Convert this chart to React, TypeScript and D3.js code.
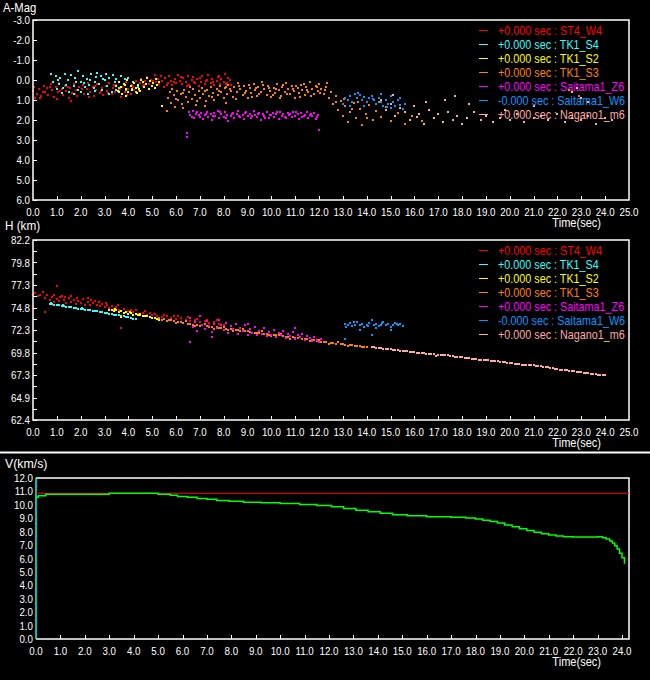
import React, { useEffect } from "react";
import * as d3 from "d3";

type P = [number, number];

// ---------- legend / series ----------
const seriesNames = ["ST4_W4", "TK1_S4", "TK1_S2", "TK1_S3", "Saitama1_Z6", "Saitama1_W6", "Nagano1_m6"];
const seriesOffsets = ["+0.000", "+0.000", "+0.000", "+0.000", "+0.000", "-0.000", "+0.000"];
const seriesColors = ["#ff0000", "#33ffff", "#ffff00", "#ff8000", "#ff00ff", "#0099ff", "#ffa8a8"];

// ---------- tick labels ----------
const timeTicksTop = [0, 1, 2, 3, 4, 5, 6, 7, 8, 9, 10, 11, 12, 13, 14, 15, 16, 17, 18, 19, 20, 21, 22, 23, 24, 25];
const timeTicksBottom = [0, 1, 2, 3, 4, 5, 6, 7, 8, 9, 10, 11, 12, 13, 14, 15, 16, 17, 18, 19, 20, 21, 22, 23, 24];
const magTicks = [-3, -2, -1, 0, 1, 2, 3, 4, 5, 6];
const hTickLabels = ["82.2", "79.8", "77.3", "74.8", "72.3", "69.8", "67.3", "64.9", "62.4"];
const vTicks = [0, 1, 2, 3, 4, 5, 6, 7, 8, 9, 10, 11, 12];

// ---------- A-Mag vs time ----------
const magST4: P[] = [
  [0.0, 0.55], [0.05, 0.35], [0.15, 0.7], [0.25, 0.45], [0.35, 0.8], [0.45, 0.3], [0.5, 0.6], [0.6, 0.4], [0.65, 0.75], [0.75, 0.2],
  [0.8, 0.5], [0.9, 0.85], [0.95, 0.35], [1.05, 0.6], [1.1, 0.15], [1.2, 0.45], [1.25, 0.75], [1.35, 0.3], [1.4, 0.55], [1.5, 0.9],
  [1.55, 0.4], [1.65, 0.65], [1.7, 0.2], [1.8, 0.5], [1.85, 0.8], [1.95, 0.35], [2.0, 0.6], [2.1, 0.25], [2.15, 0.7], [2.25, 0.45],
  [2.3, 0.15], [2.4, 0.6], [2.5, 0.35], [2.55, 0.8], [2.65, 0.5], [2.7, 0.2], [2.8, 0.65], [2.9, 0.4], [2.95, 0.75], [3.05, 0.3],
  [3.1, 0.55], [3.2, 0.15], [3.3, 0.7], [3.35, 0.4], [3.45, 0.6], [3.5, 0.25], [3.6, 0.5], [3.7, 0.85], [3.75, 0.35], [3.85, 0.6],
  [3.9, 0.1], [4.0, 0.45], [4.1, 0.7], [4.15, 0.25], [4.25, 0.5], [4.3, 0.05], [4.4, 0.35], [4.5, 0.15], [4.55, -0.05], [4.65, 0.25],
  [4.7, 0.05], [4.8, -0.15], [4.85, 0.2], [4.95, 0.0], [5.0, 0.3], [5.1, -0.25], [5.15, 0.1], [5.25, -0.05], [5.3, 0.2], [5.4, 0.05],
  [5.5, 0.35], [5.55, -0.1], [5.65, 0.15], [5.7, -0.2], [5.8, 0.05], [5.85, 0.25], [5.95, -0.05], [6.0, 0.15], [6.1, -0.25], [6.15, 0.05],
  [6.25, 0.2], [6.3, -0.1], [6.4, 0.1], [6.5, -0.2], [6.55, 0.25], [6.65, 0.0], [6.7, -0.15], [6.8, 0.15], [6.9, -0.05], [6.95, 0.3],
  [7.05, 0.1], [7.1, -0.2], [7.2, 0.2], [7.3, 0.0], [7.35, -0.25], [7.45, 0.15], [7.5, -0.05], [7.6, 0.25], [7.7, 0.05], [7.75, -0.15],
  [7.85, 0.2], [7.9, -0.05], [8.0, 0.1], [8.05, -0.3], [8.15, 0.15], [8.2, -0.1], [8.3, 0.25], [1.6, 1.05], [1.0, 0.95], [0.3, 0.9],
  [0.1, 0.9], [0.4, 0.6], [0.7, 0.35], [1.15, 0.55], [1.45, 0.35], [1.75, 0.7], [2.05, 0.45], [2.35, 0.85], [2.6, 0.3], [2.85, 0.55],
  [3.15, 0.65], [3.4, 0.25], [3.65, 0.45], [3.95, 0.75], [4.2, 0.35], [4.45, 0.55], [4.6, 0.3], [5.05, 0.05], [5.35, -0.2], [5.6, 0.25],
  [5.9, 0.1], [6.2, -0.15], [6.45, 0.3], [6.75, 0.1], [7.0, -0.1], [7.25, 0.05], [7.55, 0.1], [7.8, -0.2], [8.1, 0.2], [8.25, 0.0],
];
const magTK1S4: P[] = [
  [0.75, -0.3], [0.85, 0.1], [0.95, -0.2], [1.0, 0.45], [1.1, 0.2], [1.15, -0.1], [1.25, 0.4], [1.35, -0.3], [1.45, 0.0], [1.5, 0.6],
  [1.6, -0.25], [1.7, 0.3], [1.75, -0.1], [1.9, -0.45], [1.9, 0.5], [2.0, 0.1], [2.1, -0.2], [2.2, 0.35], [2.25, -0.05], [2.3, 0.7],
  [2.4, 0.0], [2.45, -0.3], [2.55, 0.4], [2.6, 0.1], [2.7, -0.35], [2.75, 0.2], [2.85, -0.2], [2.9, 0.5], [3.0, 0.0], [3.05, -0.3],
  [3.1, 0.3], [3.2, -0.1], [3.3, 0.6], [3.35, -0.25], [3.45, 0.1], [3.5, -0.05], [3.6, 0.4], [3.7, -0.2], [3.8, 0.2], [3.9, 0.5],
  [4.0, -0.1], [4.1, 0.3], [4.2, 0.1], [4.3, 0.6], [1.2, 0.65], [1.7, 0.7], [2.0, 0.6], [2.6, 0.55], [3.2, 0.7], [3.5, 0.5],
  [4.4, 0.35], [2.15, 0.15], [1.4, 0.25], [2.95, -0.05], [1.05, 0.0], [1.8, 0.1], [2.35, 0.25], [3.85, -0.05], [2.65, -0.15], [4.15, 0.45],
];
const magTK1S2: P[] = [
  [3.5, 0.3], [3.55, 0.55], [3.6, 0.1], [3.7, 0.35], [3.75, 0.7], [3.8, 0.2], [3.9, 0.45], [3.95, 0.0], [4.0, 0.6], [4.1, 0.3],
  [4.15, 0.5], [4.25, 0.15], [4.3, 0.4], [4.4, 0.25], [4.5, 0.55], [4.6, 0.1], [4.65, 0.35], [4.75, 0.2], [4.85, 0.45], [4.9, 0.05],
  [5.0, 0.3], [5.05, 0.15], [5.15, -0.05], [5.2, 0.25], [5.3, 0.1], [3.9, 0.8], [4.35, 0.65], [5.4, 1.3], [4.55, 0.0], [3.6, 0.6],
  [4.8, -0.1], [5.1, 0.4], [3.85, 0.25], [4.45, 0.45],
];
const magTK1S3: P[] = [
  [5.6, 1.55], [5.65, 0.9], [5.75, 0.6], [5.8, 1.15], [5.9, 0.75], [5.95, 1.35], [6.05, 0.55], [6.1, 1.0], [6.2, 0.7], [6.25, 1.2],
  [6.35, 0.5], [6.4, 0.85], [6.5, 1.1], [6.55, 0.6], [6.65, 0.95], [6.7, 0.45], [6.8, 0.75], [6.85, 1.25], [6.95, 0.55], [7.0, 0.9],
  [7.1, 0.4], [7.15, 0.7], [7.25, 1.05], [7.3, 0.5], [7.4, 0.8], [7.45, 0.35], [7.55, 0.65], [7.6, 1.0], [7.7, 0.45], [7.75, 0.75],
  [7.85, 0.3], [7.9, 0.6], [8.0, 0.9], [8.05, 0.4], [8.15, 0.7], [8.2, 0.25], [8.3, 0.55], [8.4, 0.85], [8.45, 0.35], [8.55, 0.6],
  [8.6, 0.15], [8.7, 0.45], [8.8, 0.75], [8.85, 0.3], [8.95, 0.55], [9.0, 0.9], [9.1, 0.4], [9.15, 0.65], [9.25, 0.2], [9.3, 0.5],
  [9.4, 0.8], [9.45, 0.35], [9.55, 0.6], [9.6, 0.1], [9.7, 0.45], [9.8, 0.75], [9.85, 0.3], [9.95, 0.55], [10.0, 0.85], [10.1, 0.4],
  [10.15, 0.65], [10.25, 0.2], [10.3, 0.5], [10.4, 0.8], [10.45, 0.35], [10.55, 0.6], [10.6, 0.15], [10.7, 0.45], [10.8, 0.7], [10.85, 0.3],
  [10.95, 0.55], [11.0, 0.9], [11.1, 0.4], [11.15, 0.65], [11.25, 0.25], [11.3, 0.5], [11.4, 0.75], [11.45, 0.35], [11.55, 0.6], [11.6, 0.1],
  [11.7, 0.45], [11.8, 0.7], [11.85, 0.3], [11.95, 0.55], [12.0, 0.2], [12.1, 0.45], [12.2, 0.7], [12.3, 0.35], [12.4, 0.9], [12.5, 0.6],
  [12.6, 1.2], [12.7, 0.8], [12.8, 1.5], [12.9, 1.05], [13.0, 1.8], [13.1, 1.3], [13.2, 2.1], [13.3, 1.6], [13.45, 1.15], [13.55, 1.9],
  [13.7, 1.45], [13.8, 2.25], [13.95, 1.7], [14.1, 1.25], [14.25, 2.0], [14.4, 1.55], [14.6, 1.85], [14.8, 1.35], [15.0, 2.05], [15.3, 1.65],
  [15.6, 2.2], [15.9, 1.8], [16.3, 2.05], [22.5, 0.5], [22.9, 0.8], [6.3, 1.4], [7.2, 1.3], [8.1, 1.15],
  [8.25, 0.45], [8.5, 0.95], [8.65, 0.3], [8.9, 0.65], [9.05, 0.25], [9.2, 0.85], [9.35, 0.4], [9.5, 0.7], [9.65, 0.25], [9.9, 0.4],
  [10.05, 0.75], [10.2, 0.45], [10.35, 0.9], [10.5, 0.25], [10.65, 0.7], [10.9, 0.45], [11.05, 0.3], [11.2, 0.85], [11.35, 0.2], [11.5, 0.5],
  [11.65, 0.8], [11.9, 0.35], [12.05, 0.65], [12.25, 0.5], [12.35, 0.15], [5.85, 0.45], [6.0, 0.95], [6.3, 0.65], [6.6, 0.35], [6.9, 1.05],
  [7.2, 0.55], [7.5, 0.85], [7.8, 0.55], [8.1, 0.35], [12.7, 1.1], [13.05, 0.95], [13.4, 1.45], [13.65, 1.1], [14.0, 1.9], [14.5, 1.1],
];
const magZ6: P[] = [
  [6.55, 1.6], [6.6, 1.75], [6.7, 1.55], [6.75, 1.9], [6.85, 1.7], [6.9, 1.6], [7.0, 1.85], [7.05, 1.65], [7.15, 1.95], [7.2, 1.75],
  [7.3, 1.6], [7.35, 1.85], [7.45, 1.7], [7.5, 2.0], [7.6, 1.65], [7.65, 1.8], [7.75, 1.55], [7.8, 1.9], [7.9, 1.7], [8.0, 1.85],
  [8.05, 1.6], [8.15, 1.75], [8.2, 2.05], [8.3, 1.8], [8.4, 1.65], [8.45, 1.9], [8.55, 1.7], [8.6, 1.55], [8.7, 1.85], [8.8, 1.75],
  [8.85, 1.95], [8.95, 1.6], [9.0, 1.8], [9.1, 1.7], [9.15, 1.9], [9.25, 1.55], [9.3, 1.75], [9.4, 1.85], [9.5, 1.65], [9.55, 2.0],
  [9.65, 1.7], [9.7, 1.8], [9.8, 1.6], [9.9, 1.9], [9.95, 1.75], [10.05, 1.65], [10.1, 1.85], [10.2, 1.7], [10.3, 1.95], [10.35, 1.6],
  [10.45, 1.8], [10.5, 1.7], [10.6, 1.9], [10.7, 1.65], [10.75, 1.75], [10.85, 1.85], [10.9, 1.6], [11.0, 1.8], [11.1, 1.7], [11.15, 1.95],
  [11.25, 1.65], [11.3, 1.85], [11.4, 1.75], [11.5, 1.6], [11.55, 1.9], [11.65, 1.7], [11.7, 1.8], [11.8, 1.65], [11.9, 1.85], [11.95, 1.75],
  [6.45, 2.65], [6.45, 2.85], [12.0, 2.5],
  [6.65, 1.85], [6.95, 1.75], [7.25, 1.7], [7.55, 1.8], [7.85, 1.6], [8.1, 1.9], [8.35, 1.7], [8.65, 1.8], [8.9, 1.65], [9.2, 1.8],
  [9.45, 1.7], [9.75, 1.9], [10.0, 1.75], [10.25, 1.6], [10.55, 1.85], [10.8, 1.7], [11.05, 1.6], [11.35, 1.8], [11.6, 1.75], [11.85, 1.95],
];
const magW6: P[] = [
  [13.0, 1.2], [13.1, 0.9], [13.2, 1.0], [13.3, 0.8], [13.4, 1.1], [13.5, 0.7], [13.6, 0.9], [13.7, 0.75], [13.8, 1.0], [13.9, 0.85],
  [14.0, 1.1], [14.1, 0.9], [14.2, 0.8], [14.3, 1.0], [14.4, 1.2], [14.5, 0.9], [14.6, 1.1], [14.7, 1.3], [14.8, 1.0], [14.9, 1.2],
  [15.0, 1.4], [15.1, 1.1], [15.2, 1.3], [15.3, 1.0], [15.4, 1.25], [15.5, 1.45], [15.6, 1.2], [13.3, 1.3], [13.9, 1.3], [14.6, 0.7],
  [15.0, 0.8], [15.4, 0.9], [13.65, 0.65], [14.25, 0.95], [14.85, 1.35],
];
const magM6: P[] = [
  [14.6, 1.0], [14.8, 1.5], [15.0, 1.2], [15.2, 1.8], [15.4, 1.4], [15.6, 1.6], [15.8, 2.0], [16.0, 1.3], [16.2, 1.7], [16.4, 2.2],
  [16.6, 1.5], [16.8, 1.9], [17.0, 1.7], [17.2, 2.1], [17.4, 1.6], [17.6, 2.0], [17.8, 1.8], [18.0, 2.2], [18.2, 1.9], [18.5, 1.6],
  [18.8, 2.0], [19.0, 1.8], [19.3, 2.1], [19.6, 1.9], [20.0, 2.0], [20.3, 1.7], [20.6, 2.1], [21.0, 1.9], [21.3, 1.8], [21.6, 2.0],
  [22.0, 1.7], [22.3, 2.1], [22.6, 1.9], [23.0, 2.0], [23.3, 1.8], [23.6, 2.2], [24.0, 1.9], [24.3, 2.0], [17.3, 1.0], [17.7, 0.8],
  [18.3, 1.2], [22.6, 0.6], [23.0, 0.9], [23.3, 1.1], [22.8, 0.4], [16.5, 1.1], [19.8, 1.5], [21.0, 1.3], [15.1, 0.75], [16.1, 1.85],
];

// ---------- H vs time ----------
const hST4: P[] = [
  [0.0, 76.2], [0.1, 76.4], [0.2, 76.0], [0.3, 76.1], [0.5, 75.8], [0.6, 76.2], [0.7, 75.6], [0.8, 75.9], [0.9, 76.1], [1.0, 75.7],
  [1.1, 75.5], [1.2, 76.0], [1.3, 75.6], [1.4, 75.3], [1.5, 75.8], [1.6, 75.4], [1.7, 75.6], [1.8, 75.2], [1.9, 75.5], [2.0, 75.3],
  [2.1, 75.7], [2.2, 75.1], [2.3, 75.4], [2.4, 75.0], [2.5, 75.3], [2.6, 75.5], [2.7, 75.0], [2.8, 74.9], [2.9, 75.2], [3.0, 74.8],
  [3.1, 75.0], [3.2, 74.7], [3.3, 74.9], [3.4, 74.6], [3.5, 74.8], [3.6, 74.5], [3.8, 74.6], [4.0, 74.4], [4.2, 74.3], [4.4, 74.1],
  [4.6, 74.2], [4.8, 73.9], [5.0, 74.0], [5.2, 73.8], [5.4, 73.7], [5.6, 73.8], [5.8, 73.6], [6.0, 73.5], [6.2, 73.6], [6.4, 73.4],
  [6.6, 73.3], [6.8, 73.4], [7.0, 73.2], [7.2, 73.3], [7.4, 73.1], [7.6, 73.2], [7.8, 73.0], [8.0, 72.9], [1.0, 77.1], [0.5, 74.3],
  [3.7, 72.5], [0.9, 75.4], [1.6, 76.0], [2.3, 75.8], [1.35, 75.9], [2.75, 75.35], [4.1, 74.55], [4.9, 74.2], [5.9, 73.85],
  [0.4, 76.5], [1.15, 75.9], [1.85, 75.85], [2.45, 75.6], [3.05, 75.25], [3.55, 75.1], [4.3, 74.5], [4.7, 74.4], [5.1, 74.1], [5.5, 73.95],
  [6.1, 73.8], [6.5, 73.7], [6.9, 73.55], [7.3, 73.45], [7.7, 73.35], [8.1, 73.1],
];
const hTK1S4: P[] = [
  [0.7, 75.2], [0.8, 75.15], [0.9, 75.1], [1.0, 75.05], [1.1, 75.0], [1.2, 74.95], [1.3, 74.9], [1.4, 74.85], [1.5, 74.85], [1.6, 74.8],
  [1.7, 74.7], [1.8, 74.7], [1.9, 74.65], [2.0, 74.6], [2.1, 74.6], [2.2, 74.55], [2.3, 74.5], [2.4, 74.45], [2.5, 74.4], [2.6, 74.4],
  [2.7, 74.35], [2.8, 74.3], [2.9, 74.25], [3.0, 74.2], [3.1, 74.15], [3.2, 74.1], [3.3, 74.05], [3.4, 74.0], [3.5, 73.95], [3.6, 73.9],
  [3.7, 73.85], [3.8, 73.8], [3.9, 73.7], [4.0, 73.7], [4.1, 73.6], [4.2, 73.55], [4.3, 73.5], [0.75, 75.3], [1.25, 75.05], [2.05, 74.75],
];
const hTK1S2: P[] = [
  [3.2, 74.5], [3.3, 74.55], [3.4, 74.4], [3.5, 74.45], [3.6, 74.3], [3.7, 74.35], [3.8, 74.2], [3.9, 74.25], [4.0, 74.1], [4.1, 74.15],
  [4.2, 74.0], [4.3, 74.05], [4.4, 73.9], [4.5, 73.95], [4.6, 73.85], [4.7, 73.8], [4.8, 73.8], [4.9, 73.7], [5.0, 73.65], [5.1, 73.6],
  [5.2, 73.5], [5.3, 73.4], [3.7, 73.7], [4.5, 74.1], [3.45, 74.6], [4.05, 74.3],
];
const hTK1S3: P[] = [
  [5.3, 73.6], [5.5, 73.5], [5.7, 73.4], [5.9, 73.3], [6.1, 73.2], [6.3, 73.1], [6.5, 73.0], [6.7, 72.9], [6.9, 72.8], [7.1, 72.8],
  [7.3, 72.7], [7.5, 72.6], [7.7, 72.6], [7.9, 72.5], [8.1, 72.4], [8.3, 72.4], [8.5, 72.3], [8.7, 72.2], [8.9, 72.2], [9.1, 72.1],
  [9.3, 72.0], [9.5, 72.0], [9.7, 71.9], [9.9, 71.8], [10.1, 71.8], [10.3, 71.7], [10.5, 71.6], [10.7, 71.5], [10.9, 71.5], [11.1, 71.4],
  [11.3, 71.3], [11.5, 71.3], [11.7, 71.2], [11.9, 71.1], [12.1, 71.0], [12.3, 71.0], [12.5, 70.9], [12.7, 70.8], [12.9, 70.8], [13.1, 70.7],
  [13.3, 70.6], [13.5, 70.5], [13.7, 70.5], [13.9, 70.4], [5.6, 73.3], [6.0, 73.05], [6.4, 73.25], [6.8, 72.7], [7.2, 72.95], [7.6, 72.45],
  [8.0, 72.65], [8.4, 72.15], [8.8, 72.4], [9.2, 71.95], [9.6, 72.15], [10.0, 71.65], [10.4, 71.9], [10.8, 71.35], [11.2, 71.55], [11.6, 71.05],
  [12.0, 71.25], [12.4, 70.8], [12.8, 70.95], [13.2, 70.55],
  [5.4, 73.45], [5.8, 73.35], [6.2, 73.15], [6.6, 72.95], [7.0, 72.75], [7.4, 72.65], [7.8, 72.55], [8.2, 72.35], [8.6, 72.25], [9.0, 72.15],
  [9.4, 72.0], [9.8, 71.85], [10.2, 71.75], [10.6, 71.55], [11.0, 71.45], [11.4, 71.3], [11.8, 71.15], [12.2, 71.0], [12.6, 70.85], [13.0, 70.75],
  [13.4, 70.6], [13.6, 70.5], [13.8, 70.45], [14.0, 70.4],
];
const hZ6: P[] = [
  [6.6, 73.6], [6.7, 72.6], [6.8, 73.2], [6.9, 72.2], [7.0, 73.8], [7.1, 72.9], [7.2, 72.4], [7.3, 73.3], [7.4, 72.7], [7.5, 72.1],
  [7.6, 73.0], [7.7, 72.5], [7.8, 73.4], [7.9, 72.8], [8.0, 72.3], [8.1, 73.1], [8.2, 72.0], [8.3, 72.7], [8.4, 72.4], [8.5, 73.0],
  [8.6, 71.9], [8.7, 72.5], [8.8, 72.2], [8.9, 72.8], [9.0, 71.8], [9.1, 72.4], [9.2, 72.0], [9.3, 72.6], [9.4, 71.7], [9.5, 72.2],
  [9.6, 71.9], [9.7, 72.5], [9.8, 71.6], [9.9, 72.1], [10.0, 71.8], [10.1, 72.3], [10.2, 71.5], [10.3, 72.0], [10.4, 71.7], [10.5, 72.2],
  [10.6, 71.4], [10.7, 71.9], [10.8, 71.6], [10.9, 72.1], [11.0, 71.3], [11.1, 71.8], [11.2, 71.5], [11.3, 71.9], [11.4, 71.2], [11.5, 71.6],
  [11.6, 71.4], [11.7, 71.1], [11.8, 71.5], [11.9, 71.2], [12.0, 71.0], [6.6, 71.0], [7.5, 71.5], [9.0, 73.0], [11.0, 72.5], [12.1, 71.3],
];
const hW6: P[] = [
  [13.1, 73.0], [13.15, 72.6], [13.2, 72.9], [13.3, 73.1], [13.4, 72.7], [13.5, 72.9], [13.6, 73.2], [13.7, 72.8], [13.8, 73.0], [13.9, 72.6],
  [14.0, 72.9], [14.1, 73.1], [14.2, 73.4], [14.3, 72.8], [14.4, 73.0], [14.5, 72.7], [14.6, 72.9], [14.7, 73.2], [14.8, 72.8], [14.9, 73.0],
  [15.0, 72.6], [15.1, 72.9], [15.2, 73.1], [15.3, 72.8], [15.4, 73.0], [15.5, 72.7], [13.1, 71.3], [13.7, 72.3], [14.4, 72.5], [15.0, 72.3],
  [14.2, 71.8], [13.45, 73.2], [14.05, 72.75], [14.65, 73.05], [15.25, 72.95],
];
const hM6: P[] = [
  [14.2, 70.4], [14.4, 70.35], [14.6, 70.3], [14.8, 70.2], [15.0, 70.2], [15.2, 70.1], [15.4, 70.0], [15.6, 70.0], [15.8, 69.9], [16.0, 69.85],
  [16.2, 69.8], [16.4, 69.75], [16.6, 69.7], [16.8, 69.65], [17.0, 69.6], [17.2, 69.5], [17.5, 69.4], [17.8, 69.35], [18.0, 69.3], [18.3, 69.2],
  [18.5, 69.1], [18.8, 69.05], [19.0, 69.0], [19.3, 68.9], [19.5, 68.85], [19.8, 68.75], [20.0, 68.7], [20.3, 68.6], [20.5, 68.5], [20.8, 68.45],
  [21.0, 68.4], [21.3, 68.3], [21.5, 68.2], [21.8, 68.1], [22.0, 68.0], [22.3, 67.9], [22.5, 67.8], [22.8, 67.7], [23.0, 67.65], [23.3, 67.55],
  [23.5, 67.5], [23.8, 67.4], [24.0, 67.35], [16.9, 69.45], [17.4, 69.55],
  [14.3, 70.4], [14.5, 70.3], [14.7, 70.25], [14.9, 70.2], [15.1, 70.15], [15.3, 70.05], [15.5, 70.0], [15.7, 69.95], [15.9, 69.9], [16.1, 69.8],
  [16.3, 69.8], [16.5, 69.7], [16.7, 69.7], [17.1, 69.55], [17.3, 69.5], [17.6, 69.4], [17.7, 69.35], [17.9, 69.3], [18.1, 69.25], [18.2, 69.2],
  [18.4, 69.15], [18.6, 69.1], [18.7, 69.05], [18.9, 69.0], [19.1, 68.95], [19.2, 68.9], [19.4, 68.85], [19.6, 68.8], [19.7, 68.75], [19.9, 68.7],
  [20.1, 68.65], [20.2, 68.6], [20.4, 68.55], [20.6, 68.5], [20.7, 68.45], [20.9, 68.4], [21.1, 68.35], [21.2, 68.3], [21.4, 68.25], [21.6, 68.2],
  [21.7, 68.15], [21.9, 68.05], [22.1, 67.95], [22.2, 67.9], [22.4, 67.85], [22.6, 67.8], [22.7, 67.75], [22.9, 67.7], [23.1, 67.6], [23.2, 67.6],
  [23.4, 67.5], [23.6, 67.45], [23.7, 67.4], [23.9, 67.35],
];

// ---------- V vs time (step line) ----------
const vTimes = [0, 0.1, 0.4, 3.0, 5.0, 5.5, 5.8, 6.2, 6.6, 7.0, 7.4, 7.9, 8.5, 9.2, 10.0, 10.8, 11.5, 12.1, 12.6, 13.1, 13.6, 14.1, 14.6, 15.2, 16.0, 17.0, 17.6, 18.0, 18.3, 18.6, 18.9, 19.2, 19.5, 19.8, 20.1, 20.4, 20.7, 21.0, 21.3, 21.6, 22.0, 22.5, 23.0, 23.2, 23.35, 23.5, 23.6, 23.7, 23.8, 23.9, 24.0, 24.1];
const vValues = [10.56, 10.68, 10.78, 10.86, 10.78, 10.71, 10.63, 10.56, 10.48, 10.41, 10.33, 10.26, 10.2, 10.15, 10.1, 10.03, 9.95, 9.85, 9.72, 9.6, 9.48, 9.37, 9.27, 9.18, 9.12, 9.08, 9.02, 8.95, 8.86, 8.76, 8.64, 8.5, 8.36, 8.22, 8.08, 7.95, 7.84, 7.75, 7.68, 7.63, 7.6, 7.61, 7.62, 7.55, 7.45, 7.3, 7.15, 6.95, 6.7, 6.4, 6.05, 5.6];
const vReference = 10.86;

const magSeries = [magST4, magTK1S4, magTK1S2, magTK1S3, magZ6, magW6, magM6];
const hSeries = [hST4, hTK1S4, hTK1S2, hTK1S3, hZ6, hW6, hM6];

const FONT = "'Liberation Sans', Arial, sans-serif";
const W = 650;
const H = 680;

// narrow text (horizontal squeeze to mimic the condensed bitmap font)
function T({ x, y, size, sx, anchor, fill, children }: { x: number; y: number; size: number; sx: number; anchor?: string; fill?: string; children: any }) {
  return (
    <text
      transform={`translate(${x},${y}) scale(${sx},1)`}
      textAnchor={anchor || "start"}
      fill={fill || "#fff"}
      fontSize={size}
      fontFamily={FONT}
    >
      {children}
    </text>
  );
}

function Legend({ top }: { top: number }) {
  return (
    <g>
      {seriesNames.map((n, i) => (
        <g key={n}>
          <line x1={479} x2={488} y1={top + i * 14 + 0.5} y2={top + i * 14 + 0.5} stroke={seriesColors[i]} strokeWidth={1} />
          <T x={498} y={top + i * 14 + 4.5} size={13} sx={0.83} fill={seriesColors[i]}>
            {`${seriesOffsets[i]} sec : ${n}`}
          </T>
        </g>
      ))}
    </g>
  );
}

function Dots({ data, x, y, color }: { data: P[]; x: any; y: any; color: string }) {
  return (
    <g fill={color} shapeRendering="crispEdges">
      {data.map((d, i) => (
        <rect key={i} x={Math.round(x(d[0]) - 1)} y={Math.round(y(d[1]) - 1)} width={2} height={2} />
      ))}
    </g>
  );
}

export default function App() {
  useEffect(() => {
    document.body.style.margin = "0";
    document.body.style.background = "#000";
  }, []);

  const xT = d3.scaleLinear().domain([0, 25]).range([33, 629]);
  const yMag = d3.scaleLinear().domain([-3, 6]).range([20, 200]);
  const yH = d3.scaleLinear().domain([82.2, 62.4]).range([240, 420]);
  const hStep = (82.2 - 62.4) / (hTickLabels.length - 1);
  const xB = d3.scaleLinear().domain([0, 24]).range([36, 622]);
  const yV = d3.scaleLinear().domain([0, 12]).range([639, 478]);

  const vLine = d3
    .line<number>()
    .x((_, i) => xB(vTimes[i]))
    .y((v) => yV(v))
    .curve(d3.curveStepAfter);

  const tick = { stroke: "#fff", strokeWidth: 1, shapeRendering: "crispEdges" as const };
  const LS = 11.5;
  const LX = 0.85;

  const timeAxis = (xs: any, ticks: number[], bottom: number, x1: number) => (
    <g>
      {ticks.map((t) => (
        <g key={t}>
          {xs(t) > xs.range()[0] + 1 && xs(t) < x1 - 1 && (
            <line x1={Math.round(xs(t)) + 0.5} x2={Math.round(xs(t)) + 0.5} y1={bottom} y2={bottom - 4} {...tick} />
          )}
          <T x={xs(t)} y={bottom + 16} size={LS} sx={LX} anchor="middle">
            {t.toFixed(1)}
          </T>
        </g>
      ))}
      <T x={601} y={bottom + 27} size={13} sx={0.85} anchor="end">
        Time(sec)
      </T>
    </g>
  );

  return (
    <svg width={W} height={H} style={{ display: "block", background: "#000" }}>
      <rect x={0} y={0} width={W} height={H} fill="#000" />

      {/* ---------- TOP: A-Mag ---------- */}
      <T x={3} y={12} size={13} sx={0.87}>A-Mag</T>
      {magTicks.map((m) => (
        <g key={m}>
          <line x1={33} x2={37} y1={Math.round(yMag(m)) + 0.5} y2={Math.round(yMag(m)) + 0.5} {...tick} />
          <T x={30} y={yMag(m) + 4} size={LS} sx={LX} anchor="end">
            {m.toFixed(1)}
          </T>
        </g>
      ))}
      {timeAxis(xT, timeTicksTop, 200, 629)}
      <Legend top={30} />
      {magSeries.map((s, i) => (
        <Dots key={i} data={s} x={xT} y={yMag} color={seriesColors[i]} />
      ))}
      <rect x={33} y={20} width={596} height={180} fill="none" stroke="#fff" strokeWidth={1.5} />

      {/* ---------- MIDDLE: H ---------- */}
      <T x={5} y={230} size={13} sx={0.9}>H (km)</T>
      {hTickLabels.map((lab, i) => {
        const v = 82.2 - i * hStep;
        return (
          <g key={lab}>
            <line x1={33} x2={37} y1={Math.round(yH(v)) + 0.5} y2={Math.round(yH(v)) + 0.5} {...tick} />
            {i < hTickLabels.length - 1 && (
              <line x1={33} x2={37} y1={Math.round(yH(v - hStep / 2)) + 0.5} y2={Math.round(yH(v - hStep / 2)) + 0.5} {...tick} />
            )}
            <T x={30} y={yH(v) + 4} size={LS} sx={LX} anchor="end">
              {lab}
            </T>
          </g>
        );
      })}
      {timeAxis(xT, timeTicksTop, 420, 629)}
      <Legend top={250} />
      {hSeries.map((s, i) => (
        <Dots key={i} data={s} x={xT} y={yH} color={seriesColors[i]} />
      ))}
      <rect x={33} y={240} width={596} height={180} fill="none" stroke="#fff" strokeWidth={1.5} />

      {/* separator */}
      <line x1={0} x2={W} y1={452.5} y2={452.5} stroke="#fff" strokeWidth={2} />

      {/* ---------- BOTTOM: V ---------- */}
      <T x={5} y={468} size={13} sx={0.95}>V(km/s)</T>
      {vTicks.map((v) => (
        <T key={v} x={33} y={yV(v) + 4} size={LS} sx={LX} anchor="end">
          {v.toFixed(1)}
        </T>
      ))}
      {timeAxis(xB, timeTicksBottom, 639, 629)}
      <path d={`M36,478H629V639H36`} fill="none" stroke="#fff" strokeWidth={1.5} />
      <line x1={36} x2={36} y1={478} y2={639} stroke="#00ffff" strokeWidth={1.5} />
      <line x1={xB(0)} x2={629} y1={yV(vReference)} y2={yV(vReference)} stroke="#ff0000" strokeWidth={1} />
      <path d={vLine(vValues) || ""} fill="none" stroke="#00ff00" strokeWidth={1.5} />
    </svg>
  );
}
